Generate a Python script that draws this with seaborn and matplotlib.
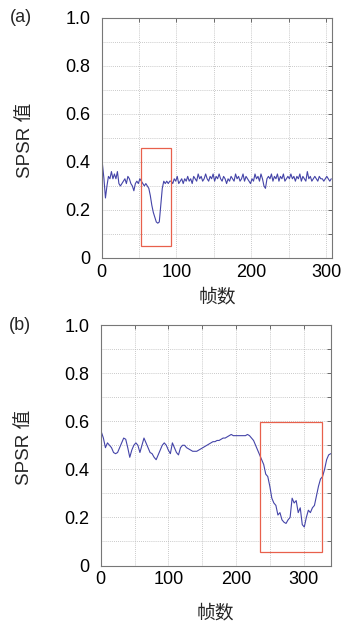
import numpy as np
import pandas as pd
import matplotlib
matplotlib.use("Agg")
import matplotlib.pyplot as plt
import seaborn as sns
from matplotlib.patches import Rectangle
from matplotlib.ticker import MultipleLocator, FuncFormatter

# ---- data ----
frames_a = [0] + list(range(1, 308, 2))
spsr_a = [
    0.00, 0.39, 0.33, 0.25, 0.30, 0.34, 0.33, 0.36, 0.33, 0.35,
    0.33, 0.36, 0.31, 0.30, 0.31, 0.32, 0.33, 0.31, 0.34, 0.33,
    0.31, 0.30, 0.28, 0.31, 0.32, 0.31, 0.33, 0.32, 0.31, 0.30,
    0.31, 0.30, 0.29, 0.26, 0.22, 0.19, 0.17, 0.15, 0.145, 0.15,
    0.22, 0.29, 0.32, 0.31, 0.32, 0.31, 0.32, 0.32, 0.31, 0.33,
    0.32, 0.34, 0.31, 0.32, 0.33, 0.31, 0.33, 0.32, 0.34, 0.32,
    0.33, 0.31, 0.34, 0.33, 0.32, 0.35, 0.33, 0.34, 0.32, 0.33,
    0.35, 0.33, 0.32, 0.34, 0.33, 0.35, 0.32, 0.34, 0.33, 0.35,
    0.33, 0.32, 0.34, 0.33, 0.31, 0.33, 0.32, 0.34, 0.33, 0.32,
    0.35, 0.33, 0.34, 0.32, 0.33, 0.35, 0.32, 0.34, 0.33, 0.32,
    0.31, 0.33, 0.32, 0.35, 0.33, 0.34, 0.32, 0.35, 0.33, 0.30,
    0.29, 0.33, 0.34, 0.33, 0.35, 0.32, 0.34, 0.33, 0.35, 0.32,
    0.34, 0.33, 0.35, 0.32, 0.33, 0.34, 0.33, 0.35, 0.33, 0.34,
    0.32, 0.34, 0.33, 0.35, 0.32, 0.34, 0.33, 0.32, 0.36, 0.33,
    0.34, 0.32, 0.33, 0.34, 0.33, 0.32, 0.34, 0.33, 0.33, 0.32,
    0.33, 0.34, 0.33, 0.32, 0.33,
]

frames_b = [0] + list(range(1, 341, 3))
spsr_b = [
    0.00, 0.555, 0.53, 0.49, 0.51, 0.50, 0.49, 0.47, 0.465, 0.47,
    0.49, 0.51, 0.53, 0.525, 0.49, 0.45, 0.48, 0.50, 0.51, 0.50,
    0.47, 0.50, 0.53, 0.51, 0.49, 0.47, 0.465, 0.45, 0.44, 0.46,
    0.48, 0.50, 0.51, 0.50, 0.48, 0.465, 0.51, 0.49, 0.47, 0.46,
    0.49, 0.50, 0.50, 0.49, 0.485, 0.48, 0.475, 0.475, 0.475, 0.48,
    0.485, 0.49, 0.495, 0.50, 0.505, 0.51, 0.515, 0.515, 0.52, 0.52,
    0.525, 0.53, 0.53, 0.535, 0.54, 0.545, 0.54, 0.54, 0.54, 0.54,
    0.54, 0.54, 0.54, 0.545, 0.54, 0.53, 0.52, 0.50, 0.48, 0.46,
    0.44, 0.42, 0.38, 0.37, 0.33, 0.28, 0.26, 0.25, 0.21, 0.22,
    0.19, 0.18, 0.175, 0.19, 0.20, 0.28, 0.26, 0.27, 0.22, 0.24,
    0.17, 0.16, 0.20, 0.23, 0.22, 0.24, 0.25, 0.29, 0.33, 0.36,
    0.37, 0.40, 0.44, 0.46, 0.465,
]

# highlighted regions: (x0, x1, y0, y1)
box_a = (53, 92, 0.05, 0.46)
box_b = (235, 327, 0.055, 0.595)

panels = [
    ("(a)", frames_a, spsr_a, box_a, 308, [0.2974, 0.5879, 0.6734, 0.3834], -0.163),
    ("(b)", frames_b, spsr_b, box_b, 340, [0.2944, 0.0966, 0.6725, 0.3842], -0.198),
]

sns.set_style("white")
plt.rcParams["font.family"] = ["Liberation Sans", "Noto Sans CJK SC", "DejaVu Sans"]

fig = plt.figure(figsize=(3.42, 6.26), dpi=100)

for tag, fr, vals, box, xmax, rect, xlab_y in panels:
    ax = fig.add_axes(rect)
    df = pd.DataFrame({"frame": fr, "spsr": vals})
    sns.lineplot(data=df, x="frame", y="spsr", ax=ax, color="#4444a8", linewidth=0.8)

    x0, x1, y0, y1 = box
    ax.add_patch(Rectangle((x0, y0), x1 - x0, y1 - y0, fill=False,
                           edgecolor="#e8604c", linewidth=0.9, zorder=3))

    ax.set_xlim(0, xmax)
    ax.set_ylim(0, 1.0)
    ax.xaxis.set_major_locator(MultipleLocator(100))
    ax.xaxis.set_minor_locator(MultipleLocator(50))
    ax.yaxis.set_major_locator(MultipleLocator(0.2))
    ax.yaxis.set_minor_locator(MultipleLocator(0.1))
    ax.yaxis.set_major_formatter(FuncFormatter(lambda v, p: "0" if abs(v) < 1e-9 else f"{v:.1f}"))

    ax.grid(True, which="both", linestyle=(0, (1, 1.5)), color="#b8b8b8", linewidth=0.6)
    ax.tick_params(which="both", direction="in", top=True, right=True,
                   length=3, width=0.6, color="#555555")
    ax.tick_params(axis="both", which="major", labelsize=13, colors="#555555",
                   labelcolor="black")
    ax.tick_params(axis="y", pad=8)
    ax.tick_params(axis="x", pad=4)
    for s in ax.spines.values():
        s.set_color("#777777")
        s.set_linewidth(0.8)

    ax.set_xlabel("帧数", fontsize=13.5)
    ax.xaxis.set_label_coords(0.5, xlab_y)
    ax.xaxis.label.set_va("center")
    ax.set_ylabel("SPSR 值", fontsize=13.5)
    ax.yaxis.set_label_coords(-0.333, 0.49)
    ax.yaxis.label.set_va("center")

    ax.text(-0.35, 1.0, tag, transform=ax.transAxes, fontsize=13,
            ha="center", va="center")

fig.savefig("out.png", dpi=100)
plt.close(fig)
